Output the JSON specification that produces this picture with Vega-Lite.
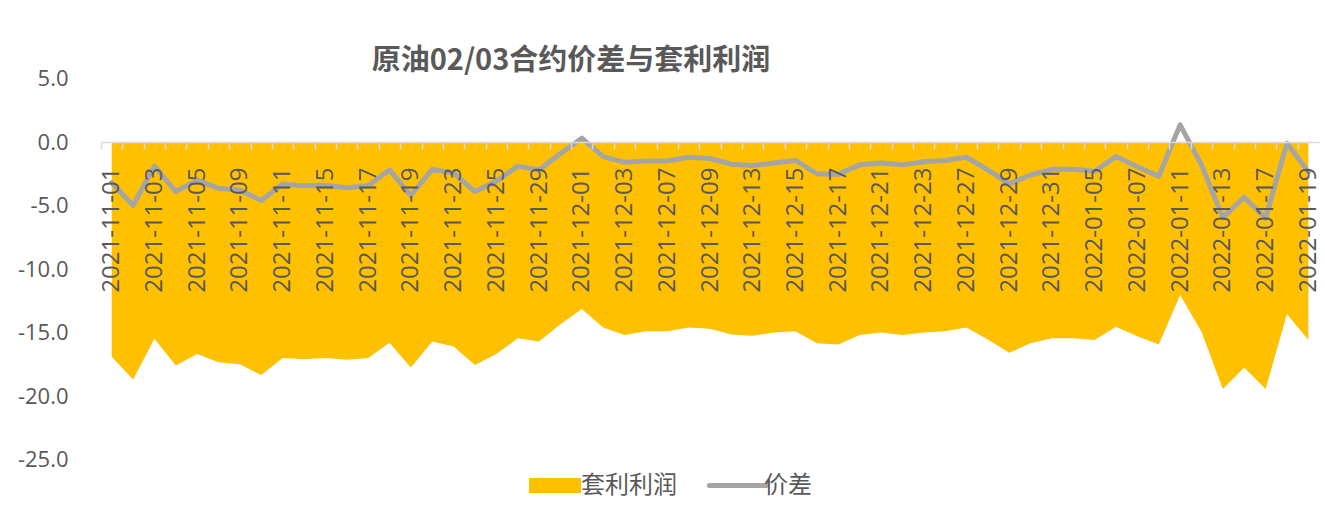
{
  "$schema": "https://vega.github.io/schema/vega-lite/v6.json",
  "width": 1218,
  "height": 381,
  "autosize": {"type": "none"},
  "padding": {"left": 101, "top": 78.5, "right": 6, "bottom": 60.5},
  "background": "white",
  "title": {
    "text": "原油02/03合约价差与套利利润",
    "font": "Noto Sans CJK SC",
    "fontSize": 29,
    "fontWeight": "bold",
    "color": "#595959",
    "anchor": "middle",
    "frame": "group",
    "dx": -139,
    "dy": 12,
    "offset": 4
  },
  "data": {
    "values": [
      {"date": "2021-11-01", "价差": -3.2, "套利利润": -16.9},
      {"date": "2021-11-02", "价差": -5.0, "套利利润": -18.7},
      {"date": "2021-11-03", "价差": -1.9, "套利利润": -15.5},
      {"date": "2021-11-04", "价差": -3.9, "套利利润": -17.6},
      {"date": "2021-11-05", "价差": -3.0, "套利利润": -16.7},
      {"date": "2021-11-08", "价差": -3.65, "套利利润": -17.35},
      {"date": "2021-11-09", "价差": -3.8, "套利利润": -17.5},
      {"date": "2021-11-10", "价差": -4.6, "套利利润": -18.35},
      {"date": "2021-11-11", "价差": -3.3, "套利利润": -17.0},
      {"date": "2021-11-12", "价差": -3.45, "套利利润": -17.1},
      {"date": "2021-11-15", "价差": -3.4, "套利利润": -17.0},
      {"date": "2021-11-16", "价差": -3.6, "套利利润": -17.15},
      {"date": "2021-11-17", "价差": -3.45, "套利利润": -17.0},
      {"date": "2021-11-18", "价差": -2.2, "套利利润": -15.8},
      {"date": "2021-11-19", "价差": -4.2, "套利利润": -17.75},
      {"date": "2021-11-22", "价差": -2.15, "套利利润": -15.7},
      {"date": "2021-11-23", "价差": -2.45, "套利利润": -16.1},
      {"date": "2021-11-24", "价差": -3.9, "套利利润": -17.55},
      {"date": "2021-11-25", "价差": -3.1, "套利利润": -16.7},
      {"date": "2021-11-26", "价差": -1.9, "套利利润": -15.45},
      {"date": "2021-11-29", "价差": -2.2, "套利利润": -15.7},
      {"date": "2021-11-30", "价差": -0.9, "套利利润": -14.35},
      {"date": "2021-12-01", "价差": 0.3, "套利利润": -13.15},
      {"date": "2021-12-02", "价差": -1.15, "套利利润": -14.6},
      {"date": "2021-12-03", "价差": -1.6, "套利利润": -15.2},
      {"date": "2021-12-06", "价差": -1.5, "套利利润": -14.9},
      {"date": "2021-12-07", "价差": -1.5, "套利利润": -14.9},
      {"date": "2021-12-08", "价差": -1.2, "套利利润": -14.6},
      {"date": "2021-12-09", "价差": -1.3, "套利利润": -14.7},
      {"date": "2021-12-10", "价差": -1.75, "套利利润": -15.15},
      {"date": "2021-12-13", "价差": -1.85, "套利利润": -15.25},
      {"date": "2021-12-14", "价差": -1.65, "套利利润": -15.0},
      {"date": "2021-12-15", "价差": -1.45, "套利利润": -14.9},
      {"date": "2021-12-16", "价差": -2.5, "套利利润": -15.85},
      {"date": "2021-12-17", "价差": -2.55, "套利利润": -15.95},
      {"date": "2021-12-20", "价差": -1.8, "套利利润": -15.2},
      {"date": "2021-12-21", "价差": -1.65, "套利利润": -15.0},
      {"date": "2021-12-22", "价差": -1.8, "套利利润": -15.2},
      {"date": "2021-12-23", "价差": -1.55, "套利利润": -15.0},
      {"date": "2021-12-24", "价差": -1.45, "套利利润": -14.9},
      {"date": "2021-12-27", "价差": -1.2, "套利利润": -14.6},
      {"date": "2021-12-28", "价差": -2.2, "套利利润": -15.55},
      {"date": "2021-12-29", "价差": -3.3, "套利利润": -16.6},
      {"date": "2021-12-30", "价差": -2.6, "套利利润": -15.85},
      {"date": "2021-12-31", "价差": -2.15, "套利利润": -15.45},
      {"date": "2022-01-04", "价差": -2.15, "套利利润": -15.45},
      {"date": "2022-01-05", "价差": -2.3, "套利利润": -15.6},
      {"date": "2022-01-06", "价差": -1.15, "套利利润": -14.55},
      {"date": "2022-01-07", "价差": -1.95, "套利利润": -15.3},
      {"date": "2022-01-10", "价差": -2.7, "套利利润": -15.95},
      {"date": "2022-01-11", "价差": 1.35, "套利利润": -12.05},
      {"date": "2022-01-12", "价差": -1.8, "套利利润": -14.95},
      {"date": "2022-01-13", "价差": -5.95, "套利利润": -19.45},
      {"date": "2022-01-14", "价差": -4.35, "套利利润": -17.75},
      {"date": "2022-01-17", "价差": -6.0, "套利利润": -19.45},
      {"date": "2022-01-18", "价差": -0.1, "套利利润": -13.55},
      {"date": "2022-01-19", "价差": -2.35, "套利利润": -15.6}
    ]
  },
  "transform": [{"fold": ["套利利润", "价差"], "as": ["series", "value"]}],
  "encoding": {
    "x": {
      "field": "date",
      "type": "ordinal",
      "sort": null,
      "scale": {"type": "point", "padding": 0.5},
      "axis": {
        "orient": "bottom",
        "offset": -317.5,
        "title": null,
        "zindex": 1,
        "labelAngle": 270,
        "labelFont": "Open Sans",
        "labelFontSize": 24,
        "labelColor": "#595959",
        "labelOverlap": false,
        "labelPadding": 18,
        "labelOffset": 10.69,
        "tickOffset": -10.69,
        "tickSize": 7,
        "tickWidth": 1.5,
        "tickColor": "#D9D9D9",
        "domainColor": "#D9D9D9",
        "domainWidth": 1.5,
        "grid": false,
        "labelExpr": "indexof(['2021-11-01','2021-11-03','2021-11-05','2021-11-09','2021-11-11','2021-11-15','2021-11-17','2021-11-19','2021-11-23','2021-11-25','2021-11-29','2021-12-01','2021-12-03','2021-12-07','2021-12-09','2021-12-13','2021-12-15','2021-12-17','2021-12-21','2021-12-23','2021-12-27','2021-12-29','2021-12-31','2022-01-05','2022-01-07','2022-01-11','2022-01-13','2022-01-17','2022-01-19'], datum.value) >= 0 ? datum.value : ''"
      }
    },
    "y": {
      "field": "value",
      "type": "quantitative",
      "scale": {"domain": [-25, 5], "nice": false, "zero": true},
      "axis": {
        "title": null,
        "values": [5, 0, -5, -10, -15, -20, -25],
        "format": ".1f",
        "labelExpr": "replace(datum.label, '\u2212', '-')",
        "domain": false,
        "ticks": false,
        "grid": false,
        "labelPadding": 33,
        "labelFont": "Open Sans",
        "labelFontSize": 22,
        "labelColor": "#595959"
      }
    },
    "color": {
      "field": "series",
      "type": "nominal",
      "scale": {"domain": ["套利利润", "价差"], "range": ["#FFC000", "#A5A5A5"]},
      "legend": {
        "orient": "none",
        "legendX": 442,
        "legendY": 395,
        "direction": "horizontal",
        "title": null,
        "symbolSize": 2704,
        "symbolType": "M-1,-0.29H1V0.29H-1Z",
        "labelFont": "Noto Sans CJK SC",
        "labelFontSize": 24,
        "labelColor": "#595959",
        "labelOffset": 14,
        "columnPadding": 22,
        "encode": {
          "symbols": {
            "update": {
              "shape": {"signal": "datum.value === '价差' ? 'M-1.1,0H1.1' : 'M-1,-0.29H1V0.29H-1Z'"},
              "fill": {"signal": "datum.value === '价差' ? 'transparent' : '#FFC000'"},
              "stroke": {"signal": "datum.value === '价差' ? '#A5A5A5' : 'transparent'"},
              "strokeWidth": {"signal": "datum.value === '价差' ? 5 : 0"},
              "strokeCap": {"value": "round"},
              "opacity": {"value": 1},
              "fillOpacity": {"value": 1},
              "strokeOpacity": {"value": 1}
            }
          }
        }
      }
    }
  },
  "layer": [
    {
      "transform": [{"filter": "datum.series === '套利利润'"}],
      "mark": {"type": "area", "opacity": 1}
    },
    {
      "transform": [{"filter": "datum.series === '价差'"}],
      "mark": {"type": "line", "strokeWidth": 5, "strokeJoin": "round", "strokeCap": "round"}
    }
  ],
  "config": {
    "view": {"stroke": null}
  }
}
